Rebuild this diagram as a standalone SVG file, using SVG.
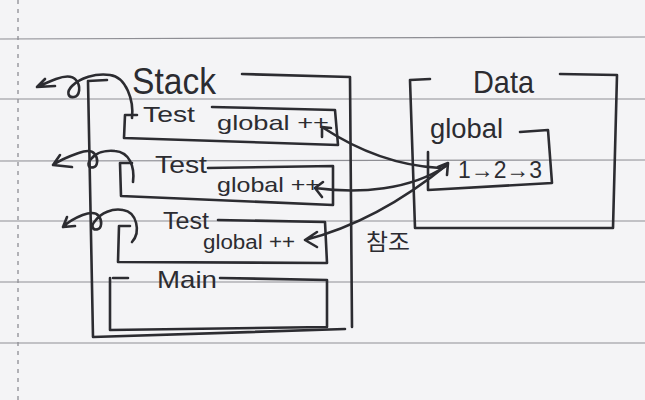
<svg xmlns="http://www.w3.org/2000/svg" width="645" height="400" viewBox="0 0 645 400">
<defs>
<style>
.paper{fill:#f4f4f6}
.rule{stroke:#8e8e94;stroke-width:1.2;fill:none}
.margin{stroke:#8e8e94;stroke-width:1.3;stroke-dasharray:4 5;fill:none}
.ink{stroke:#2c2c31;stroke-width:2.6;fill:none;stroke-linecap:round;stroke-linejoin:round}
.t{fill:#2c2c31;font-family:"Liberation Sans","Noto Sans CJK KR",sans-serif}
</style>
</defs>
<rect class="paper" x="0" y="0" width="645" height="400"/>
<g id="paper-lines">
<path class="rule" d="M0,39 L645,37"/>
<path class="rule" d="M0,99 L645,99"/>
<path class="rule" d="M0,161 L645,160"/>
<path class="rule" d="M0,221 L645,221"/>
<path class="rule" d="M0,282 L645,282"/>
<path class="rule" d="M0,343 L645,343"/>
<path class="margin" d="M18,0 L18,400"/>
</g>
<g id="stack">
<path class="ink" d="M107,80 L88,81 L93,337 L345,329"/>
<path class="ink" d="M242,74 L350,77 L352,327"/>
<text class="t" x="132" y="94" font-size="37" textLength="84" lengthAdjust="spacingAndGlyphs">Stack</text>
</g>
<g id="frame-test1">
<path class="ink" d="M125,115 L137,115 M125,115 L124,138 L338,145 L335,110 L212,107"/>
<text class="t" x="143" y="122" font-size="22" textLength="52" lengthAdjust="spacingAndGlyphs">Test</text>
<text class="t" x="217" y="130" font-size="21" textLength="112" lengthAdjust="spacingAndGlyphs">global ++</text>
</g>
<g id="frame-test2">
<path class="ink" d="M120,163 L132,163 M120,163 L121,196 L333,205 L333,166 L208,168"/>
<text class="t" x="155" y="173" font-size="24" textLength="52" lengthAdjust="spacingAndGlyphs">Test</text>
<text class="t" x="217" y="192" font-size="21" textLength="103" lengthAdjust="spacingAndGlyphs">global ++</text>
</g>
<g id="frame-test3">
<path class="ink" d="M119,226 L130,226 M119,226 L118,262 L327,263 L325,222 L218,220"/>
<text class="t" x="163" y="229" font-size="23" textLength="46" lengthAdjust="spacingAndGlyphs">Test</text>
<text class="t" x="203" y="249" font-size="20" textLength="92" lengthAdjust="spacingAndGlyphs">global ++</text>
</g>
<g id="frame-main">
<path class="ink" d="M113,278 L128,278 M110,278 L110,330 L327,327 L327,280 L220,278"/>
<text class="t" x="157" y="288" font-size="24" textLength="60" lengthAdjust="spacingAndGlyphs">Main</text>
</g>
<g id="data">
<path class="ink" d="M430,79 L410,80 L415,228 L613,228 L617,75 L560,74"/>
<text class="t" x="473" y="93" font-size="32" textLength="61" lengthAdjust="spacingAndGlyphs">Data</text>
</g>
<g id="global">
<path class="ink" d="M520,132 L548,130 L552,183 L428,190 L428,152"/>
<text class="t" x="430" y="138" font-size="27" textLength="73" lengthAdjust="spacingAndGlyphs">global</text>
<text class="t" x="458" y="178" font-size="24" textLength="84" lengthAdjust="spacingAndGlyphs">1→2→3</text>
</g>
<g id="connectors">
<path class="ink" d="M132,118 C134,100 126,77 110,75 C95,73 80,78 72,86 C66,92 68,98 74,97 C80,96 81,86 76,80 C72,75 64,76 56,79 C48,82 42,85 37,87 M45,79 L37,87 L55,86"/>
<path class="ink" d="M133,182 C135,166 129,152 115,151 C105,150 96,153 91.4,158.6 C86.6,163.4 88.2,168.2 93,167.4 C97.8,166.6 98.6,158.6 94.6,153.8 C91.4,149.8 85,150.6 78.6,153 C70,156 60,160 53,165 M60,155 L53,165 L72,167"/>
<path class="ink" d="M132,242 C141,232 137,212 123,210 C112,208 101,213 95.4,220.6 C90.6,225.4 92.2,230.2 97,229.4 C101.8,228.6 102.6,220.6 98.6,215.8 C95.4,211.8 89,212.6 82.6,215 C75,218 68,222 63,227 M67,217 L63,227 L75,226"/>
<path class="ink" d="M440,168 C400,166 360,152 322,127 M322,137 L322,127 L331,128"/>
<path class="ink" d="M446,166 C410,190 360,194 315,188 M323,182 L315,188 L322,197"/>
<path class="ink" d="M448,164 C410,195 360,226 305,240 M317,232 L305,240 L317,247 M438,167 L448,163 L447,175"/>
<text class="t" x="366" y="250" font-size="23" textLength="44" lengthAdjust="spacingAndGlyphs">참조</text>
</g>
</svg>
